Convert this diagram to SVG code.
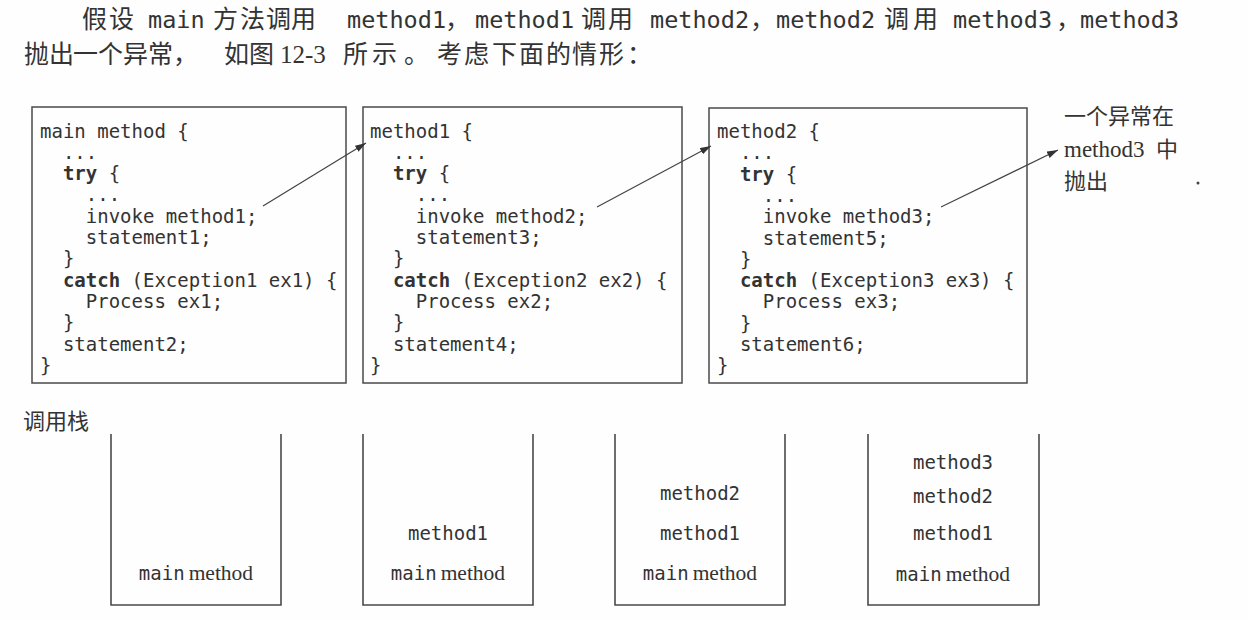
<svg xmlns="http://www.w3.org/2000/svg" width="1248" height="620" viewBox="0 0 1248 620">
<style>
.cjk{font-family:"Noto Sans CJK SC","Noto Sans",sans-serif;fill:#333}
.hm{font-family:"DejaVu Sans Mono","Liberation Mono",monospace;font-size:23.5px;fill:#333}
.code{font-family:"DejaVu Sans Mono","Liberation Mono",monospace;font-size:19px;fill:#333}
.b{font-weight:bold}
.serif{font-family:"Liberation Serif","Noto Sans CJK SC",serif;fill:#333}
.box{fill:none;stroke:#4a4a4a;stroke-width:1.5}
.stack{fill:none;stroke:#4a4a4a;stroke-width:1.6}
.conn{stroke:#444;stroke-width:1.2;fill:none}
.sm{font-family:"DejaVu Sans Mono","Liberation Mono",monospace;font-size:19px;fill:#333}
</style>
<defs>
<marker id="ah" markerUnits="userSpaceOnUse" markerWidth="12" markerHeight="8" refX="11" refY="3.5" orient="auto">
<path d="M0,0 L11,3.5 L0,7 Z" fill="#333"/>
</marker>
</defs>
<rect width="1248" height="620" fill="#fefefe"/>

<g id="header">
<text class="cjk" font-size="25" y="28"><tspan x="82 109">假设</tspan><tspan class="hm" x="148">main</tspan><tspan x="213 240 266 291">方法调用</tspan><tspan class="hm" x="347">method1</tspan><tspan x="445">，</tspan><tspan class="hm" x="475">method1</tspan><tspan x="581 608">调用</tspan><tspan class="hm" x="650">method2</tspan><tspan x="750">，</tspan><tspan class="hm" x="776">method2</tspan><tspan x="884 913">调用</tspan><tspan class="hm" x="953">method3</tspan><tspan x="1056">，</tspan><tspan class="hm" x="1080">method3</tspan></text>
<text class="cjk" font-size="25" y="63"><tspan x="24 49 73 98 123 148 173 224 249">抛出一个异常，如图</tspan><tspan class="serif" x="280">12-3</tspan><tspan x="343 372 404 437 464 492 519 546 572 599 627">所示。考虑下面的情形：</tspan></text>
</g>

<g id="main-box">
<rect class="box" x="32" y="107" width="314" height="276"/>
<text class="code" x="40" y="137.5">main method {</text>
<text class="code" x="62.9" y="158.8">...</text>
<text class="code" x="62.9" y="180.1"><tspan class="b">try</tspan> {</text>
<text class="code" x="85.8" y="201.4">...</text>
<text class="code" x="85.8" y="222.7">invoke method1;</text>
<text class="code" x="85.8" y="244">statement1;</text>
<text class="code" x="62.9" y="265.3">}</text>
<text class="code" x="62.9" y="286.6"><tspan class="b">catch</tspan> (Exception1 ex1) {</text>
<text class="code" x="85.8" y="307.9">Process ex1;</text>
<text class="code" x="62.9" y="329.2">}</text>
<text class="code" x="62.9" y="350.5">statement2;</text>
<text class="code" x="40" y="371.8">}</text>
</g>

<g id="method1-box">
<rect class="box" x="363" y="107" width="319" height="276"/>
<text class="code" x="370" y="137.5">method1 {</text>
<text class="code" x="392.9" y="158.8">...</text>
<text class="code" x="392.9" y="180.1"><tspan class="b">try</tspan> {</text>
<text class="code" x="415.8" y="201.4">...</text>
<text class="code" x="415.8" y="222.7">invoke method2;</text>
<text class="code" x="415.8" y="244">statement3;</text>
<text class="code" x="392.9" y="265.3">}</text>
<text class="code" x="392.9" y="286.6"><tspan class="b">catch</tspan> (Exception2 ex2) {</text>
<text class="code" x="415.8" y="307.9">Process ex2;</text>
<text class="code" x="392.9" y="329.2">}</text>
<text class="code" x="392.9" y="350.5">statement4;</text>
<text class="code" x="370" y="371.8">}</text>
</g>

<g id="method2-box">
<rect class="box" x="709" y="108" width="318" height="275"/>
<text class="code" x="717" y="138">method2 {</text>
<text class="code" x="739.9" y="159.3">...</text>
<text class="code" x="739.9" y="180.6"><tspan class="b">try</tspan> {</text>
<text class="code" x="762.8" y="201.9">...</text>
<text class="code" x="762.8" y="223.2">invoke method3;</text>
<text class="code" x="762.8" y="244.5">statement5;</text>
<text class="code" x="739.9" y="265.8">}</text>
<text class="code" x="739.9" y="287.1"><tspan class="b">catch</tspan> (Exception3 ex3) {</text>
<text class="code" x="762.8" y="308.4">Process ex3;</text>
<text class="code" x="739.9" y="329.7">}</text>
<text class="code" x="739.9" y="351">statement6;</text>
<text class="code" x="717" y="372.3">}</text>
</g>

<g id="exception-label">
<text class="cjk" font-size="22" x="1064" y="124">一个异常在</text>
<text class="cjk" font-size="22" y="157"><tspan class="serif" font-size="23" x="1064">method3</tspan><tspan x="1156">中</tspan></text>
<text class="cjk" font-size="22" x="1064" y="189">抛出</text>
<circle cx="1198" cy="183" r="1.5" fill="#444"/>
</g>

<g id="connectors">
<line class="conn" x1="263" y1="206" x2="366" y2="143" marker-end="url(#ah)"/>
<line class="conn" x1="597" y1="207" x2="711" y2="146" marker-end="url(#ah)"/>
<line class="conn" x1="941" y1="207" x2="1058" y2="150" marker-end="url(#ah)"/>
</g>

<g id="stack-title">
<text class="cjk" font-size="22" x="23" y="429">调用栈</text>
</g>

<g id="stack1">
<path class="stack" d="M111,434 V605 H281 V434"/>
<text x="196" y="580" text-anchor="middle"><tspan class="sm">main</tspan><tspan class="serif" font-size="21.5" dx="4">method</tspan></text>
</g>

<g id="stack2">
<path class="stack" d="M363,434 V605 H533 V434"/>
<text class="sm" x="448" y="540" text-anchor="middle">method1</text>
<text x="448" y="580" text-anchor="middle"><tspan class="sm">main</tspan><tspan class="serif" font-size="21.5" dx="4">method</tspan></text>
</g>

<g id="stack3">
<path class="stack" d="M615,434 V605 H785 V434"/>
<text class="sm" x="700" y="500" text-anchor="middle">method2</text>
<text class="sm" x="700" y="540" text-anchor="middle">method1</text>
<text x="700" y="580" text-anchor="middle"><tspan class="sm">main</tspan><tspan class="serif" font-size="21.5" dx="4">method</tspan></text>
</g>

<g id="stack4">
<path class="stack" d="M868,434 V605 H1039 V434"/>
<text class="sm" x="953" y="469" text-anchor="middle">method3</text>
<text class="sm" x="953" y="503" text-anchor="middle">method2</text>
<text class="sm" x="953" y="540" text-anchor="middle">method1</text>
<text x="953" y="581" text-anchor="middle"><tspan class="sm">main</tspan><tspan class="serif" font-size="21.5" dx="4">method</tspan></text>
</g>
</svg>
